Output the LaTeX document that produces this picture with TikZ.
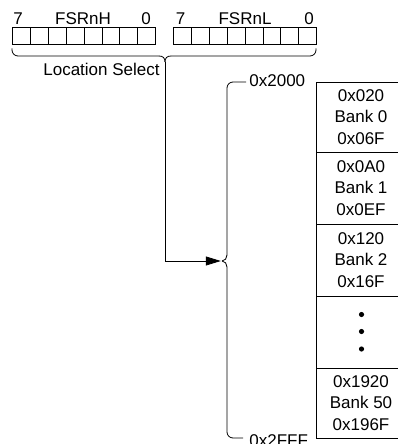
\documentclass[tikz,border=0pt]{standalone}
\usepackage{fontspec}
\setmainfont{Liberation Sans}
\usetikzlibrary{arrows.meta}
\begin{document}
\begin{tikzpicture}[x=1pt,y=-1pt,line width=0.8pt,
  txt/.style={font=\fontsize{17}{21.5}\selectfont,inner sep=0pt},
  bitcell/.style={draw,minimum width=17.9pt,minimum height=17pt,inner sep=0pt,anchor=north west},
  bankcell/.style={draw,minimum width=90pt,align=center,inner sep=0pt,font=\fontsize{17}{21.5}\selectfont},
  dotmark/.style={fill,circle,minimum size=5.2pt,inner sep=0pt}]
\useasboundingbox (0,0) rectangle (398,444);
% registers
\foreach \i in {0,...,7}{
  \node[bitcell] (h\i) at ({12+17.9*\i},27) {};
  \node[bitcell] (l\i) at ({173+17.9*\i},27) {};
}
\node[txt,anchor=base] (h7lab) at (18,25) {7};
\node[txt,anchor=base] (hname) at (83,25) {FSRnH};
\node[txt,anchor=base] (h0lab) at (146,25) {0};
\node[txt,anchor=base] (l7lab) at (180.7,25) {7};
\node[txt,anchor=base] (lname) at (245,25) {FSRnL};
\node[txt,anchor=base] (l0lab) at (309,25) {0};
% brace under registers
\coordinate (tip1) at (165,62);
\draw[rounded corners=6pt] (12,48.5) |- (159,56);
\draw (159,56) .. controls (163,56) and (165,58) .. (tip1);
\draw (tip1) .. controls (165,58) and (167,56) .. (171,56);
\draw[rounded corners=6pt] (171,56) -| (316,48.5);
\node[txt,anchor=base] (locsel) at (101.5,75) {Location Select};
% brace at memory
\coordinate (tip2) at (222,261);
\coordinate (btop) at (246,82);
\coordinate (bbot) at (243,438);
\draw[rounded corners=6pt] (btop) -| (227,255);
\draw (227,255) .. controls (227,258) and (225,261) .. (tip2);
\draw (tip2) .. controls (225,261) and (227,264) .. (227,267);
\draw[rounded corners=6pt] (227,267) |- (bbot);
\node[txt,anchor=west] (a2000) at (249,81) {0x2000};
\node[txt,anchor=west] (a2fff) at (249,441) {0x2FFF};
% connector
\coordinate (arrend) at (220.8,261);
\draw[-{Triangle[length=15pt,width=9pt]}] (tip1) |- (arrend);
% memory banks
\node[bankcell,minimum height=70pt] (bank0) at (361,117) {0x020\\Bank 0\\0x06F};
\node[bankcell,minimum height=72pt] (bank1) at (361,188) {0x0A0\\Bank 1\\0x0EF};
\node[bankcell,minimum height=72pt] (bank2) at (361,260) {0x120\\Bank 2\\0x16F};
\node[bankcell,minimum height=72pt] (bankd) at (361,332) {};
\node[bankcell,minimum height=70pt] (bank50) at (361,403) {0x1920\\Bank 50\\0x196F};
\node[dotmark] (d1) at (361.5,314.5) {};
\node[dotmark] (d2) at (361.5,331.5) {};
\node[dotmark] (d3) at (361.5,349) {};
\end{tikzpicture}
\end{document}
